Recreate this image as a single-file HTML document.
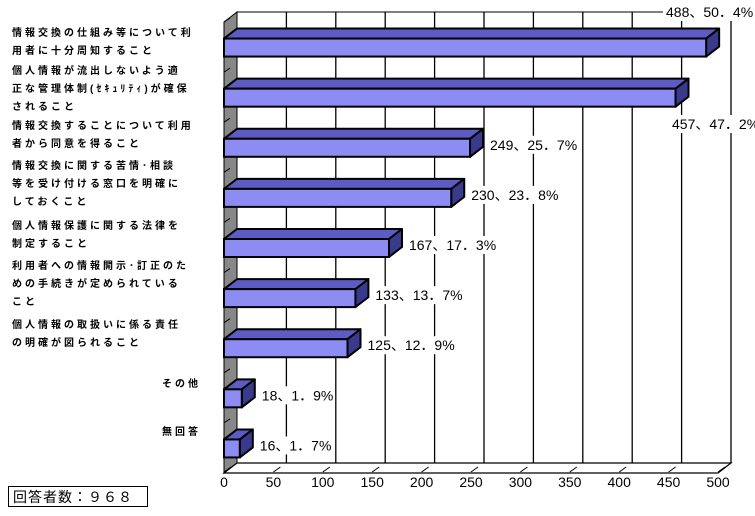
<!DOCTYPE html>
<html><head><meta charset="utf-8">
<style>
body{margin:0;background:#fff;width:755px;height:516px;overflow:hidden;position:relative;font-family:"Liberation Sans","Noto Sans CJK JP",sans-serif}
.cat{position:absolute;left:12px;font:bold 10px "Liberation Sans","Noto Sans CJK JP",sans-serif;letter-spacing:3px;line-height:18px;white-space:nowrap;color:#000}
#total{position:absolute;left:8px;top:486px;width:140px;height:21px;border:1px solid #000;font:14px "Liberation Sans","Noto Sans CJK JP",sans-serif;line-height:21px;padding-left:4px;letter-spacing:1px;box-sizing:border-box}
</style></head><body>
<svg id="chart" width="755" height="516" style="position:absolute;left:0;top:0"></svg>
<div class="cat" style="top:25px">情報交換の仕組み等について利<br>用者に十分周知すること</div>
<div class="cat" style="top:63px">個人情報が流出しないよう適<br>正な管理体制(ｾｷｭﾘﾃｨ)が確保<br>されること</div>
<div class="cat" style="top:118px">情報交換することについて利用<br>者から同意を得ること</div>
<div class="cat" style="top:158px">情報交換に関する苦情･相談<br>等を受け付ける窓口を明確に<br>しておくこと</div>
<div class="cat" style="top:218px">個人情報保護に関する法律を<br>制定すること</div>
<div class="cat" style="top:258px">利用者への情報開示･訂正のた<br>めの手続きが定められている<br>こと</div>
<div class="cat" style="top:317px">個人情報の取扱いに係る責任<br>の明確が図られること</div>
<div class="cat" style="top:376px;left:162px">その他</div>
<div class="cat" style="top:424px;left:162px">無回答</div>
<div id="total">回答者数：９６８</div>
<script>
const values=[488,457,249,230,167,133,125,18,16];
const percents=["50．4%","47．2%","25．7%","23．8%","17．3%","13．7%","12．9%","1．9%","1．7%"];
const ticks=[0,50,100,150,200,250,300,350,400,450,500];
const NS="http://www.w3.org/2000/svg";
const svg=document.getElementById('chart');
const X0=224,K=0.988,DX=13,DY=-10,TOP=22,BOT=473,N=values.length;
const band=(BOT-TOP)/N;
const x=v=>X0+v*K;
function mk(t,a,p){const e=document.createElementNS(NS,t);for(const k in a)e.setAttribute(k,a[k]);(p||svg).appendChild(e);return e;}
// back wall
const bw=mk('rect',{x:X0+DX,y:TOP+DY,width:500*K,height:BOT-TOP,fill:'#fff',stroke:'#000','stroke-width':1});

ticks.forEach(t=>{if(t===0)return;const g=mk('line',{x1:x(t)+DX,y1:TOP+DY,x2:x(t)+DX,y2:BOT+DY,stroke:'#000','stroke-width':1.3});
});
// left wall
const lw=mk('polygon',{points:`${X0},${TOP} ${X0+DX},${TOP+DY} ${X0+DX},${BOT+DY} ${X0},${BOT}`,fill:'#888',stroke:'#000','stroke-width':1});

for(let i=0;i<=N;i++){const yy=TOP+i*band;const l=mk('line',{x1:X0,y1:yy,x2:X0+6,y2:yy-4,stroke:'#000'});
}
// floor
const fl=mk('polygon',{points:`${X0},${BOT} ${X0+DX},${BOT+DY} ${x(500)+DX},${BOT+DY} ${x(500)},${BOT}`,fill:'#fff',stroke:'#000','stroke-width':1.2});

ticks.forEach(t=>{const l=mk('line',{x1:x(t),y1:BOT-1,x2:x(t)+7,y2:BOT-6,stroke:'#000'});

const tx=mk('text',{x:x(t),y:487,'text-anchor':'middle','font-size':14,'font-family':'Liberation Sans,sans-serif'});tx.textContent=t;
});
// bars
const H=18;
values.forEach((v,i)=>{const cy=TOP+(i+0.5)*band+0.5;const y0=cy-H/2,x1=x(v);
const g=mk('g',{});
mk('polygon',{points:`${X0},${y0} ${X0+DX},${y0+DY} ${x1+DX},${y0+DY} ${x1},${y0}`,fill:'#5c5cc4',stroke:'#000','stroke-width':2,'stroke-linejoin':'round'},g);
mk('polygon',{points:`${x1},${y0} ${x1+DX},${y0+DY} ${x1+DX},${y0+H+DY} ${x1},${y0+H}`,fill:'#3a3a8c',stroke:'#000','stroke-width':2,'stroke-linejoin':'round'},g);
mk('rect',{x:X0,y:y0,width:x1-X0,height:H,fill:'#8c8cf2',stroke:'#000','stroke-width':2},g);
let lx,ly;
if(i===0){lx=666;ly=12;}else if(i===1){lx=672;ly=124;}else{lx=x1+20;ly=cy-3;}
const w=(String(v).length+1+percents[i].length)*8.6+8;
mk('rect',{x:lx-3,y:ly-9,width:w,height:18,fill:'#fff'});
const t=mk('text',{x:lx,y:ly+5,'font-size':14,'font-family':'Liberation Sans,Noto Sans CJK JP,sans-serif'});
t.textContent=v+'、'+percents[i];
});
</script>
</body></html>
